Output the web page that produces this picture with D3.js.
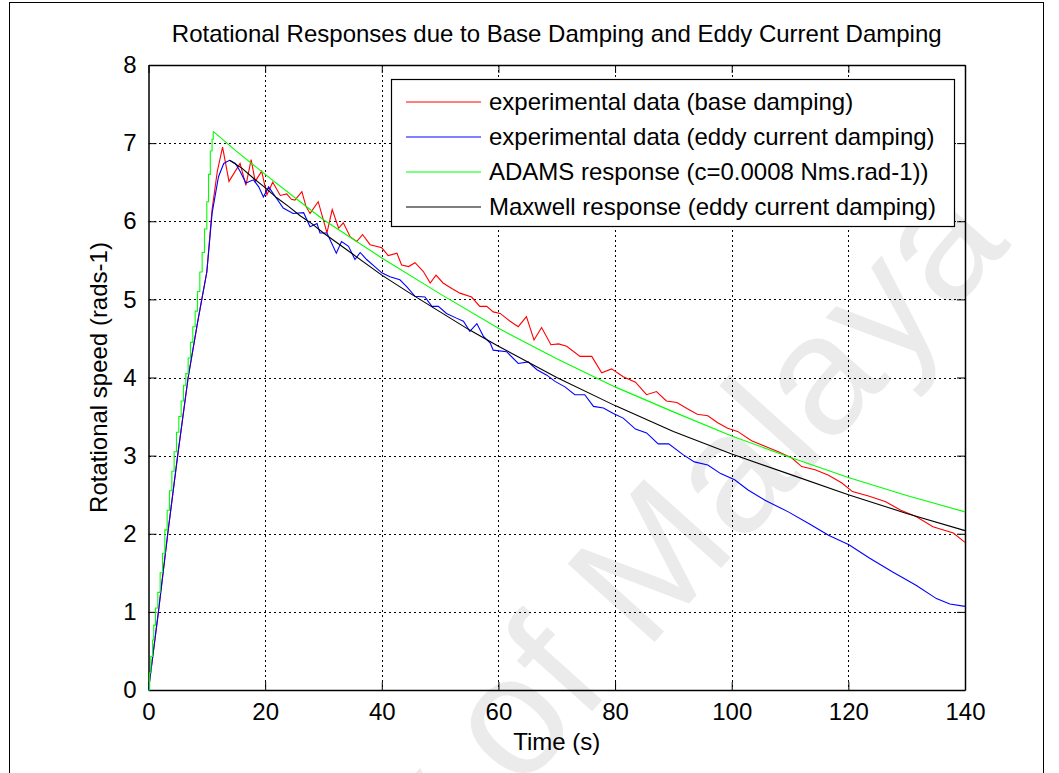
<!DOCTYPE html>
<html><head><meta charset="utf-8">
<script src="https://cdn.jsdelivr.net/npm/d3@7/dist/d3.min.js"></script>
<style>
html,body{margin:0;padding:0;background:#fff;}
svg{display:block;font-family:"Liberation Sans",Arial,Helvetica,sans-serif;}
</style></head>
<body><svg id="c" width="1059" height="773"></svg>
<script>
const titleText = "Rotational Responses due to Base Damping and Eddy Current Damping";
const xLabel = "Time (s)";
const yLabel = "Rotational speed (rads-1)";
const xTicks = [0,20,40,60,80,100,120,140];
const yTicks = [0,1,2,3,4,5,6,7,8];
const seriesNames = ["experimental data (base damping)","experimental data (eddy current damping)","ADAMS response (c=0.0008 Nms.rad-1))","Maxwell response (eddy current damping)"];
const seriesColors = ["#ff0000","#0000ff","#00ff00","#000000"];
const watermark = "University of Malaya";

// experimental data (base damping) [time, speed]
const baseDamping = [[0,0],[1.7,1],[3.3,2],[5.0,3],[6.8,4],[8.4,4.7],[10.0,5.35],[10.9,6.15],[11.8,6.64],[12.7,6.95],[13.8,6.51],[15.7,6.74],[16.7,6.46],[17.6,6.79],[18.3,6.51],[19.4,6.64],[20.3,6.34],[21.3,6.50],[22.6,6.33],[23.7,6.35],[24.5,6.28],[25.1,6.27],[26.3,6.38],[27.0,6.19],[27.7,6.10],[29.1,6.25],[30.6,5.85],[31.5,6.15],[32.6,5.91],[33.4,5.98],[34.6,5.80],[35.7,5.74],[36.7,5.83],[38.0,5.70],[40.0,5.66],[41.1,5.56],[42.6,5.59],[43.4,5.44],[44.6,5.42],[45.7,5.47],[47.1,5.36],[48.3,5.21],[49.3,5.31],[50.5,5.21],[52.0,5.14],[53.4,5.08],[55.4,5.03],[56.8,4.91],[58.0,4.91],[59.1,4.84],[60.3,4.82],[62.0,4.72],[63.4,4.65],[64.8,4.78],[66.1,4.48],[67.4,4.64],[69.0,4.42],[70.3,4.43],[71.7,4.40],[74.0,4.27],[76.0,4.27],[77.7,4.06],[79.4,4.11],[81.4,4.01],[83.5,3.94],[85.4,3.78],[87.1,3.82],[88.8,3.70],[90.6,3.68],[92.4,3.60],[94.1,3.53],[95.9,3.51],[97.6,3.42],[99.3,3.35],[101.0,3.31],[103.4,3.19],[105.7,3.12],[108.0,3.05],[110.3,2.97],[112.0,2.86],[114.3,2.82],[116.6,2.75],[118.9,2.65],[120.7,2.54],[123.6,2.48],[126.4,2.41],[129.0,2.30],[131.6,2.22],[134.5,2.09],[138.0,2.01],[140,1.89]];

// experimental data (eddy current damping)
const eddyDamping = [[0,0],[1.7,1],[3.3,2],[5.0,3],[6.8,4],[8.4,4.7],[10.0,5.35],[10.9,6.1],[12.0,6.57],[12.9,6.74],[13.9,6.78],[14.9,6.74],[15.7,6.64],[16.7,6.49],[18.0,6.53],[18.9,6.44],[19.7,6.31],[20.6,6.44],[21.7,6.32],[23.1,6.17],[24.8,6.10],[26.6,6.11],[27.7,5.93],[28.9,5.97],[29.4,5.85],[30.6,5.85],[32.2,5.59],[33.1,5.74],[34.3,5.68],[35.4,5.51],[36.3,5.60],[37.4,5.51],[38.8,5.42],[40.0,5.34],[41.4,5.29],[43.1,5.25],[44.3,5.16],[45.7,5.04],[47.4,5.03],[48.6,4.91],[49.7,4.91],[51.1,4.82],[52.8,4.76],[54.0,4.72],[55.1,4.59],[56.3,4.69],[57.4,4.53],[58.6,4.44],[59.1,4.35],[61.4,4.33],[63.4,4.18],[65.1,4.20],[66.6,4.10],[68.3,4.03],[69.7,3.95],[71.4,3.88],[73.1,3.78],[74.8,3.78],[76.3,3.63],[78.0,3.61],[79.7,3.54],[81.4,3.48],[83.5,3.34],[85.4,3.29],[87.4,3.15],[89.2,3.15],[91.7,3.01],[93.6,2.92],[95.9,2.88],[98.1,2.77],[100.5,2.69],[102.8,2.56],[105.7,2.43],[109.7,2.28],[113.2,2.13],[116.6,1.98],[120.1,1.86],[123.6,1.69],[127.6,1.51],[131.6,1.34],[135.1,1.17],[137.4,1.10],[140,1.07]];

// ADAMS response: stepped rise, then smooth decay
const adamsRise = [[0,0],[0.2,0.22],[0.4,0.43],[0.7,0.64],[0.9,0.83],[1.2,1.05],[1.6,1.25],[2.0,1.5],[2.4,1.75],[2.8,2.05],[3.2,2.3],[3.6,2.55],[4.0,2.8],[4.4,3.05],[4.8,3.3],[5.2,3.5],[5.6,3.7],[6.0,3.9],[6.4,4.05],[6.8,4.25],[7.2,4.45],[7.6,4.65],[8.0,4.85],[8.4,5.1],[8.8,5.35],[9.2,5.6],[9.6,5.9],[10.0,6.25],[10.3,6.6],[10.6,6.9],[10.9,7.05],[11.1,7.15]];
const adamsDecay = [[11.1,7.15],[15,6.9],[20,6.6],[26,6.25],[30,6.02],[40,5.53],[50,5.07],[60,4.63],[70,4.24],[80,3.88],[90,3.56],[100,3.25],[110,2.98],[120,2.72],[130,2.49],[140,2.28]];

// Maxwell response
const maxwell = [[13.9,6.78],[16,6.68],[18,6.55],[20,6.43],[22,6.30],[24,6.19],[26,6.07],[28,5.97],[30,5.85],[35,5.58],[40,5.31],[45,5.07],[50,4.84],[55,4.61],[60,4.40],[70,4.00],[80,3.64],[90,3.31],[100,3.02],[110,2.76],[120,2.50],[130,2.26],[140,2.04]];

const svg = d3.select("#c");
const L = 148.5, R = 965, T = 65, B = 690;
const x = d3.scaleLinear().domain([0,140]).range([L,R]);
const y = d3.scaleLinear().domain([0,8]).range([B,T]);

// figure frame
svg.append("rect").attr("x",9.5).attr("y",2.5).attr("width",1034).attr("height",800)
  .attr("fill","none").attr("stroke","#000").attr("stroke-width",1);

// watermark
svg.append("text").text(watermark)
  .attr("transform","translate(1012,245) rotate(-48)")
  .attr("text-anchor","end")
  .attr("font-size",170).attr("fill","#ebebeb");

// grid
const grid = svg.append("g").attr("stroke","#000").attr("stroke-width",1).attr("stroke-dasharray","2,3").attr("shape-rendering","crispEdges");
grid.selectAll("line.gx").data(xTicks.slice(1,-1)).join("line")
  .attr("x1",d=>Math.round(x(d))+0.5).attr("x2",d=>Math.round(x(d))+0.5).attr("y1",T).attr("y2",B);
grid.selectAll("line.gy").data(yTicks.slice(1,-1)).join("line")
  .attr("y1",d=>Math.round(y(d))+0.5).attr("y2",d=>Math.round(y(d))+0.5).attr("x1",L).attr("x2",R);

// axes (ticks inside, mirrored)
const fs = 24;
const axB = svg.append("g").attr("transform",`translate(0,${B})`)
  .call(d3.axisBottom(x).tickValues(xTicks).tickSizeInner(-8).tickSizeOuter(0).tickPadding(13));
const axT = svg.append("g").attr("transform",`translate(0,${T})`)
  .call(d3.axisTop(x).tickValues(xTicks).tickSizeInner(-8).tickSizeOuter(0).tickFormat(""));
const axL = svg.append("g").attr("transform",`translate(${L},0)`)
  .call(d3.axisLeft(y).tickValues(yTicks).tickSizeInner(-8).tickSizeOuter(0).tickPadding(12));
const axR = svg.append("g").attr("transform",`translate(${R},0)`)
  .call(d3.axisRight(y).tickValues(yTicks).tickSizeInner(-8).tickSizeOuter(0).tickFormat(""));
[axB,axT,axL,axR].forEach(a=>{
  a.selectAll("path").attr("stroke","#000").attr("stroke-width",1.5);
  a.selectAll("line").attr("stroke","#000");
  a.selectAll("text").attr("font-size",fs).attr("fill","#000").attr("font-family","Liberation Sans, Arial, sans-serif");
});

// series
const line = d3.line().x(d=>x(d[0])).y(d=>y(d[1]));
const stepLine = d3.line().x(d=>x(d[0])).y(d=>y(d[1])).curve(d3.curveStepAfter);
const g = svg.append("g").attr("fill","none").attr("stroke-width",1.1);
g.append("path").attr("d",line(baseDamping)).attr("stroke",seriesColors[0]);
g.append("path").attr("d",line(eddyDamping)).attr("stroke",seriesColors[1]);
g.append("path").attr("d",stepLine(adamsRise)).attr("stroke",seriesColors[2]);
g.append("path").attr("d",line(adamsDecay)).attr("stroke",seriesColors[2]);
g.append("path").attr("d",line(maxwell)).attr("stroke",seriesColors[3]);

// title & labels
svg.append("text").attr("x",(L+R)/2).attr("y",42).attr("text-anchor","middle").attr("font-size",fs).text(titleText);
svg.append("text").attr("x",(L+R)/2).attr("y",750).attr("text-anchor","middle").attr("font-size",fs).text(xLabel);
svg.append("text").attr("transform",`translate(107,${(T+B)/2}) rotate(-90)`).attr("text-anchor","middle").attr("font-size",fs).text(yLabel);

// legend
const lg = svg.append("g");
lg.append("rect").attr("x",391.5).attr("y",79.5).attr("width",563).attr("height",147)
  .attr("fill","#fff").attr("stroke","#000").attr("stroke-width",1.2);
const rowY = d3.scalePoint().domain(d3.range(4)).range([102,207]);
seriesNames.forEach((n,i)=>{
  lg.append("line").attr("x1",406).attr("x2",481).attr("y1",rowY(i)).attr("y2",rowY(i)).attr("stroke",seriesColors[i]).attr("stroke-width",1.1);
  lg.append("text").attr("x",489).attr("y",rowY(i)).attr("dy","0.35em").attr("font-size",fs).text(n);
});
</script></body></html>
